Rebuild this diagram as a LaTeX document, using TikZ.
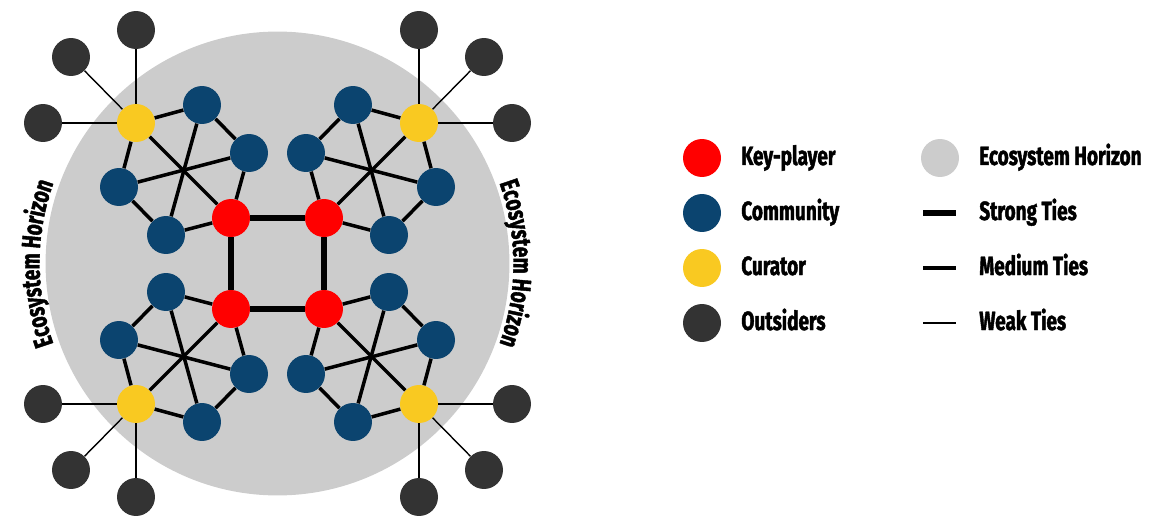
\documentclass[tikz,border=0pt]{standalone}
\usepackage{fontspec}
\newfontfamily\oswfam[FakeStretch=0.72,FakeBold=1.6]{Fira Sans}
\usetikzlibrary{decorations.text}
\definecolor{kred}{HTML}{FF0000}
\definecolor{comm}{HTML}{0B446F}
\definecolor{cur}{HTML}{F9C921}
\definecolor{outs}{HTML}{333333}
\definecolor{horiz}{HTML}{CCCCCC}
\newcommand\lab{\oswfam\bfseries\fontsize{15}{18}\selectfont}
\begin{document}
\begin{tikzpicture}[x=0.02cm,y=0.02cm,
  dot/.style={circle,minimum size=0.76cm,inner sep=0pt,draw=none},
  keyp/.style={dot,fill=kred},
  commu/.style={dot,fill=comm},
  curat/.style={dot,fill=cur},
  outsider/.style={dot,fill=outs},
  horizdot/.style={dot,fill=horiz},
  bigcircle/.style={circle,fill=horiz,minimum size=9.28cm,inner sep=0pt,draw=none},
  strongtie/.style={line width=3.6pt},
  medtie/.style={line width=2pt},
  weaktie/.style={line width=0.8pt},
  lbl/.style={anchor=base west,inner sep=0pt,font=\lab},
  arctext/.style={decorate,decoration={text along path,text={|\lab|#1},text align=center}}]
\useasboundingbox (0,0) rectangle (1150,-517);
\coordinate (ctr) at (277.5,-263.5);
\node[bigcircle] (eh) at (ctr) {};
% clusters
\foreach \sx/\sy/\q in {1/1/a,-1/1/b,1/-1/c,-1/-1/d}{
  \node[keyp] (r\q) at (277.5-46.5*\sx, -263.5+45.5*\sy) {};
  \node[curat] (k\q) at (277.5-141.5*\sx, -263.5+140.5*\sy) {};
  \node[outsider] (o1\q) at (277.5-141.5*\sx, -263.5+233.5*\sy) {};
  \node[outsider] (o2\q) at (277.5-206.5*\sx, -263.5+206.5*\sy) {};
  \node[outsider] (o3\q) at (277.5-234.5*\sx, -263.5+140.5*\sy) {};
  \node[commu] (A\q) at (277.5-75.5*\sx, -263.5+158.5*\sy) {};
  \node[commu] (B\q) at (277.5-28.5*\sx, -263.5+110.5*\sy) {};
  \node[commu] (C\q) at (277.5-158.5*\sx, -263.5+76.5*\sy) {};
  \node[commu] (D\q) at (277.5-111.5*\sx, -263.5+28.5*\sy) {};
  \draw[medtie] (k\q) -- (A\q);
  \draw[medtie] (k\q) -- (C\q);
  \draw[medtie] (k\q) -- (r\q);
  \draw[medtie] (A\q) -- (B\q);
  \draw[medtie] (A\q) -- (D\q);
  \draw[medtie] (B\q) -- (C\q);
  \draw[medtie] (B\q) -- (r\q);
  \draw[medtie] (C\q) -- (D\q);
  \draw[medtie] (D\q) -- (r\q);
  \draw[weaktie] (k\q) -- (o1\q);
  \draw[weaktie] (k\q) -- (o2\q);
  \draw[weaktie] (k\q) -- (o3\q);
}
\draw[strongtie] (ra) -- (rb);
\draw[strongtie] (ra) -- (rc);
\draw[strongtie] (rb) -- (rd);
\draw[strongtie] (rc) -- (rd);
% curved labels
\path[arctext={Ecosystem Horizon}] (ctr) ++(215:238) arc[start angle=215,end angle=145,radius=238];
\path[arctext={Ecosystem Horizon}] (ctr) ++(35:236) arc[start angle=35,end angle=-35,radius=236];
% legend
\node[keyp] (lk) at (702,-158) {};
\node[lbl] (lkt) at (741,-165) {Key-player};
\node[commu] (lc) at (702,-213) {};
\node[lbl] (lct) at (741,-220) {Community};
\node[curat] (lu) at (702,-268) {};
\node[lbl] (lut) at (741,-275) {Curator};
\node[outsider] (lo) at (702,-323) {};
\node[lbl] (lot) at (741,-330) {Outsiders};
\node[horizdot] (lh) at (940,-158) {};
\node[lbl] (lht) at (979,-165) {Ecosystem Horizon};
\coordinate (s1) at (923,-213); \coordinate (s2) at (956,-213);
\draw[strongtie] (s1) -- (s2);
\node[lbl] (lst) at (979,-220) {Strong Ties};
\coordinate (m1) at (923,-268); \coordinate (m2) at (956,-268);
\draw[medtie] (m1) -- (m2);
\node[lbl] (lmt) at (979,-275) {Medium Ties};
\coordinate (w1) at (923,-323); \coordinate (w2) at (956,-323);
\draw[weaktie] (w1) -- (w2);
\node[lbl] (lwt) at (979,-330) {Weak Ties};
\end{tikzpicture}
\end{document}
